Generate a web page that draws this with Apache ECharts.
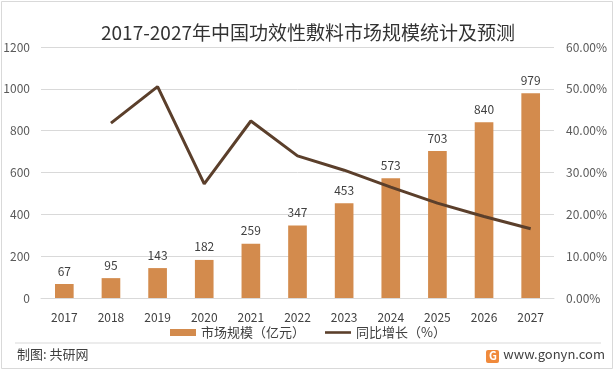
<!DOCTYPE html>
<html><head><meta charset="utf-8">
<script src="https://cdn.jsdelivr.net/npm/echarts@6/dist/echarts.min.js"></script>
<style>html,body{margin:0;padding:0;background:#fff}#c{width:616px;height:372px}</style>
</head><body><div id="c"></div>
<script>
const years = ['2017','2018','2019','2020','2021','2022','2023','2024','2025','2026','2027'];
const marketSize = [67, 95, 143, 182, 259, 347, 453, 573, 703, 840, 979];
const growth = [null, 41.79, 50.53, 27.27, 42.31, 33.98, 30.55, 26.49, 22.69, 19.49, 16.55];
const leftTicks = [0, 200, 400, 600, 800, 1000, 1200];
const rightTicks = [0, 10, 20, 30, 40, 50, 60];

const font = '"Noto Sans CJK SC", "Noto Sans", sans-serif';
const chart = echarts.init(document.getElementById('c'), null, {renderer: 'canvas'});
chart.setOption({
  backgroundColor: '#fff',
  animation: false,
  textStyle: {fontFamily: font},
  title: {
    text: '2017-2027年中国功效性敷料市场规模统计及预测',
    left: 'center', top: 18,
    textStyle: {fontSize: 19, fontWeight: 'normal', color: '#333', fontFamily: font}
  },
  grid: {left: 41, right: 62, top: 47, bottom: 74},
  legend: {
    bottom: 28, left: 'center', itemGap: 20, itemWidth: 26, itemHeight: 7,
    textStyle: {fontSize: 13, color: '#404040', fontFamily: font},
    data: [
      {name: '市场规模（亿元）', icon: 'rect'},
      {name: '同比增长（%）', icon: 'path://M0,0 L30,0 L30,3 L0,3 Z'}
    ]
  },
  xAxis: {
    type: 'category', data: years,
    axisLine: {lineStyle: {color: '#D9D9D9'}},
    axisTick: {show: false},
    axisLabel: {color: '#404040', fontSize: 12, margin: 13, fontFamily: font}
  },
  yAxis: [{
    type: 'value', min: 0, max: 1200, interval: 200,
    axisLabel: {color: '#595959', fontSize: 12, margin: 11, fontFamily: font, formatter: v => String(v)},
    splitLine: {lineStyle: {color: '#D9D9D9'}},
    axisLine: {show: false}, axisTick: {show: false}
  }, {
    type: 'value', min: 0, max: 60, interval: 10,
    axisLabel: {color: '#595959', fontSize: 12, margin: 12, fontFamily: font,
      formatter: v => v.toFixed(2) + '%'},
    splitLine: {show: false}, axisLine: {show: false}, axisTick: {show: false}
  }],
  series: [{
    name: '市场规模（亿元）', type: 'bar', data: marketSize, barWidth: '40%',
    itemStyle: {color: '#D38B4D'},
    label: {show: true, position: 'top', distance: 7, color: '#404040', fontSize: 12, fontFamily: font}
  }, {
    name: '同比增长（%）', type: 'line', yAxisIndex: 1, data: growth,
    symbol: 'none', lineStyle: {color: '#5B3F2B', width: 3}, itemStyle: {color: '#5B3F2B'}
  }],
  graphic: [
    {type: 'rect', shape: {x: 1.5, y: 1.5, width: 611, height: 367}, style: {fill: null, stroke: '#D9D9D9', lineWidth: 1}, silent: true},
    {type: 'line', shape: {x1: 15, y1: 343, x2: 601, y2: 343}, style: {stroke: '#D9D9D9', lineWidth: 1}},
    {type: 'text', left: 17, top: 348, style: {text: '制图: 共研网', font: '13px ' + font, fill: '#404040'}},
    {type: 'rect', shape: {x: 486, y: 350, width: 13, height: 13, r: 2}, style: {fill: '#F08A3C'}},
    {type: 'text', x: 489, y: 350, style: {text: 'G', font: 'bold 11px ' + font, fill: '#fff'}},
    {type: 'text', x: 605, y: 348, style: {text: 'www.gonyn.com', font: '13px ' + font, fill: '#404040', textAlign: 'right'}}
  ]
});
</script></body></html>
